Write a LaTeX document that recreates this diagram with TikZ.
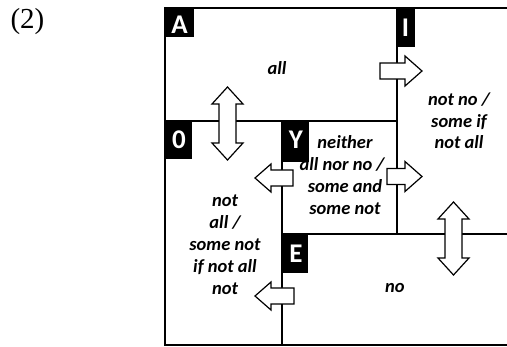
\documentclass[tikz,border=0pt]{standalone}
\usepackage{fontspec}
\setmainfont{Carlito}
\newfontfamily\numserif{Liberation Serif}
\newcommand\rightarr[3]{% tail x, tip x, centre y
  \draw[arrowshape] (#1,{#3-8}) -- ({#2-17},{#3-8}) -- ({#2-17},{#3-15}) -- (#2,#3)
    -- ({#2-17},{#3+15}) -- ({#2-17},{#3+8}) -- (#1,{#3+8}) -- cycle;}
\newcommand\leftarr[3]{% tail x, tip x, centre y
  \draw[arrowshape] (#1,{#3-8}) -- ({#2+16},{#3-8}) -- ({#2+16},{#3-14}) -- (#2,#3)
    -- ({#2+16},{#3+14}) -- ({#2+16},{#3+8}) -- (#1,{#3+8}) -- cycle;}
\newcommand\updownarr[3]{% centre x, top y, bottom y
  \draw[arrowshape] (#1,#2) -- ({#1+15.5},{#2+17}) -- ({#1+8.5},{#2+17}) -- ({#1+8.5},{#3-17})
    -- ({#1+15.5},{#3-17}) -- (#1,#3) -- ({#1-15.5},{#3-17}) -- ({#1-8.5},{#3-17})
    -- ({#1-8.5},{#2+17}) -- ({#1-15.5},{#2+17}) -- cycle;}
\begin{document}
\begin{tikzpicture}[x=1pt,y=-1pt,
  frame/.style={line width=2.4pt},
  arrowshape/.style={draw=black,fill=white,line width=1.2pt,line join=miter},
  tagbox/.style={fill=black,draw=none},
  tagtext/.style={text=white,font=\fontsize{27}{27}\selectfont\bfseries,inner sep=0pt},
  body/.style={font=\fontsize{18.5}{22}\selectfont\bfseries\itshape,inner sep=0pt,anchor=base}]
\useasboundingbox (0,0) rectangle (507,347);
% number
\node[anchor=base,inner sep=0pt,font=\numserif\fontsize{29}{29}\selectfont] (num) at (27.5,29) {(2)};
% frame and dividing lines
\draw[frame] (507,8) -- (165,8) -- (165,345) -- (507,345);
\draw[frame] (165,121) -- (397,121);
\draw[frame] (397,8) -- (397,234);
\draw[frame] (282,121) -- (282,345);
\draw[frame] (282,234) -- (507,234);
% corner tags
\fill[tagbox] (165,8) rectangle (194,37);
\node[tagtext] (tA) at (179.5,24.5) {A};
\fill[tagbox] (396,8) rectangle (415,47);
\node[tagtext] (tI) at (405.5,27.5) {I};
\fill[tagbox] (165,121) rectangle (192,159);
\node[tagtext] (tO) at (179,139.5) {0};
\fill[tagbox] (282,121) rectangle (309,162);
\node[tagtext] (tY) at (296,140) {Y};
\fill[tagbox] (282,234) rectangle (308,273);
\node[tagtext] (tE) at (296,253.5) {E};
% arrows
\updownarr{227.5}{87}{160}
\updownarr{453.5}{202}{275}
\rightarr{380}{422}{71}
\rightarr{387}{422}{176.5}
\leftarr{293}{255}{178}
\leftarr{294}{255}{296}
% texts
\node[body] (all) at (277,75) {all};
\node[body] (i1) at (459,106) {not no /};
\node[body] (i2) at (459,128) {some if};
\node[body] (i3) at (459,149) {not all};
\node[body] (y1) at (345,149) {neither};
\node[body] (y2) at (342,170.5) {all nor no /};
\node[body] (y3) at (345,192.5) {some and};
\node[body] (y4) at (345,215) {some not};
\node[body] (o1) at (225,207) {not};
\node[body] (o2) at (225,228.5) {all /};
\node[body] (o3) at (225,250.5) {some not};
\node[body] (o4) at (225,272.5) {if not all};
\node[body] (o5) at (225,295) {not};
\node[body] (no) at (395,293) {no};
\end{tikzpicture}
\end{document}
